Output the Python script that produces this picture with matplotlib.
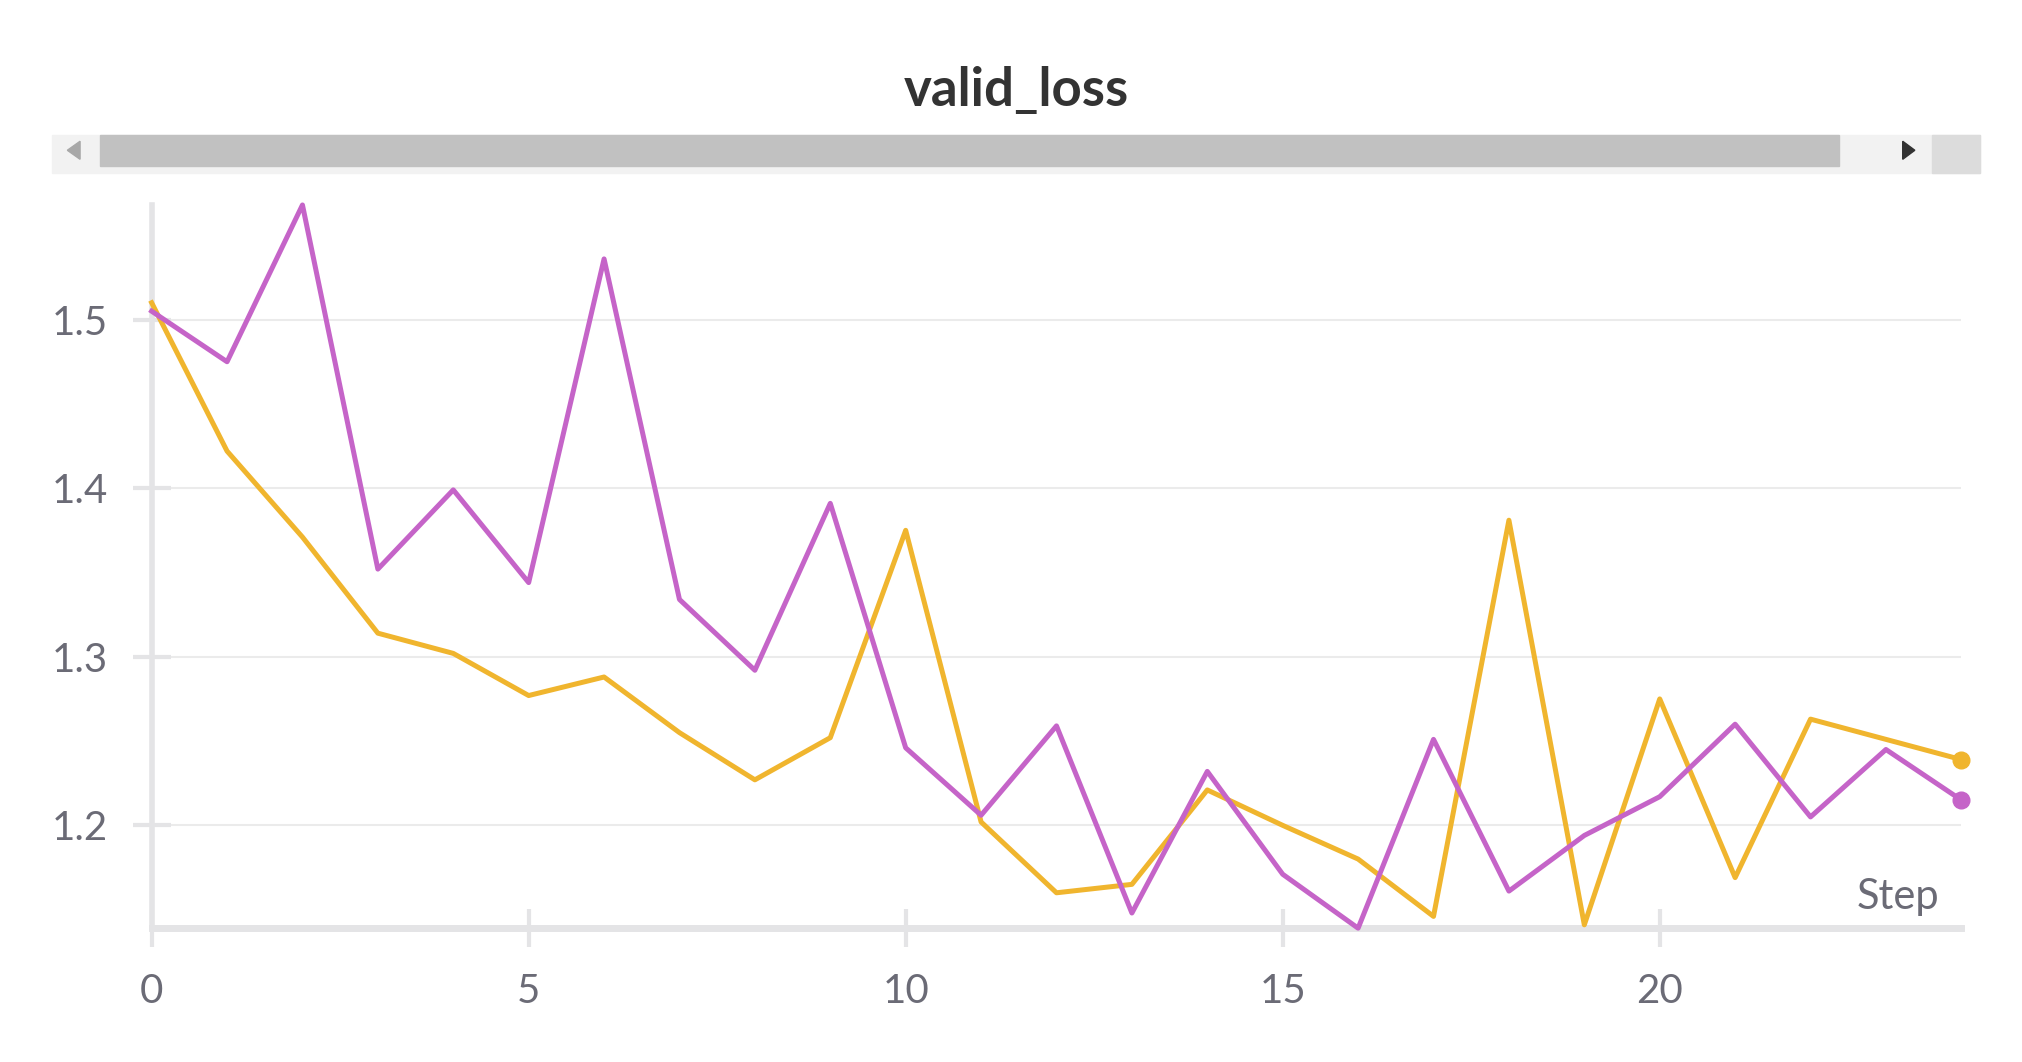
"""valid_loss panel, two runs over 25 steps."""

import matplotlib.pyplot as plt
from matplotlib.patches import Polygon, Rectangle

plt.rcParams["font.family"] = ["Lato", "DejaVu Sans"]

steps = list(range(25))
run_yellow = [1.510, 1.422, 1.371, 1.314, 1.302, 1.277, 1.288, 1.255, 1.227, 1.252,
              1.375, 1.202, 1.160, 1.165, 1.221, 1.200, 1.180, 1.146, 1.381, 1.141,
              1.275, 1.169, 1.263, 1.251, 1.239]
run_purple = [1.505, 1.475, 1.568, 1.352, 1.399, 1.344, 1.536, 1.334, 1.292, 1.391,
              1.246, 1.206, 1.259, 1.148, 1.232, 1.171, 1.139, 1.251, 1.161, 1.194,
              1.217, 1.260, 1.205, 1.245, 1.215]
xticks = [0, 5, 10, 15, 20]
yticks = [1.2, 1.3, 1.4, 1.5]

YELLOW = "#f0b52e"
PURPLE = "#c564c8"
AXIS_GREY = "#e4e4e6"
LABEL = "#6b6b76"

fig = plt.figure(figsize=(20.22, 10.62), dpi=100)

# title + fake scrollbar on top
fig.text(0.5025, 0.9146, "valid_loss", ha="center", va="center",
         fontsize=38, fontweight="bold", color="#333333")
fig.patches.append(Rectangle((0.0256, 0.837), 0.9536, 0.036, transform=fig.transFigure,
                             color="#f2f2f2", zorder=0))
fig.patches.append(Rectangle((0.0494, 0.844), 0.8601, 0.029, transform=fig.transFigure,
                             color="#c1c1c1", zorder=1))
fig.patches.append(Rectangle((0.9556, 0.837), 0.0234, 0.036, transform=fig.transFigure,
                             color="#dcdcdc", zorder=1))
fig.patches.append(Polygon([(0.0333, 0.8585), (0.0396, 0.867), (0.0396, 0.850)],
                           transform=fig.transFigure, color="#a8a8a8", zorder=2))
fig.patches.append(Polygon([(0.947, 0.8585), (0.941, 0.867), (0.941, 0.850)],
                           transform=fig.transFigure, color="#333333", zorder=2))

ax = fig.add_axes([0.075, 0.126, 0.895, 0.681])
ax.plot(steps, run_yellow, color=YELLOW, lw=3.6, clip_on=False, zorder=3)
ax.plot(steps, run_purple, color=PURPLE, lw=3.6, clip_on=False, zorder=4)
ax.plot(steps[-1], run_yellow[-1], "o", color=YELLOW, ms=12, clip_on=False, zorder=5)
ax.plot(steps[-1], run_purple[-1], "o", color=PURPLE, ms=12, clip_on=False, zorder=5)

ax.set_xlim(0, 24)
ax.set_ylim(1.139, 1.568)
ax.set_xticks(xticks)
ax.set_yticks(yticks)
ax.set_yticklabels([f"{v:.1f}" for v in yticks])

for side in ["top", "right"]:
    ax.spines[side].set_visible(False)
ax.spines["left"].set_color(AXIS_GREY)
ax.spines["left"].set_linewidth(4)
ax.spines["bottom"].set_color(AXIS_GREY)
ax.spines["bottom"].set_linewidth(5)
ax.grid(axis="y", color="#ebebeb", lw=1.5)
ax.set_axisbelow(True)

ax.tick_params(axis="both", direction="inout", length=27, width=3, color=AXIS_GREY,
               labelsize=29, labelcolor=LABEL)
ax.tick_params(axis="x", pad=19)
ax.tick_params(axis="y", pad=18)

ax.text(0.988, 0.026, "Step", transform=ax.transAxes, ha="right", va="baseline",
        fontsize=30, color=LABEL)

plt.savefig("out.png")
plt.close()
